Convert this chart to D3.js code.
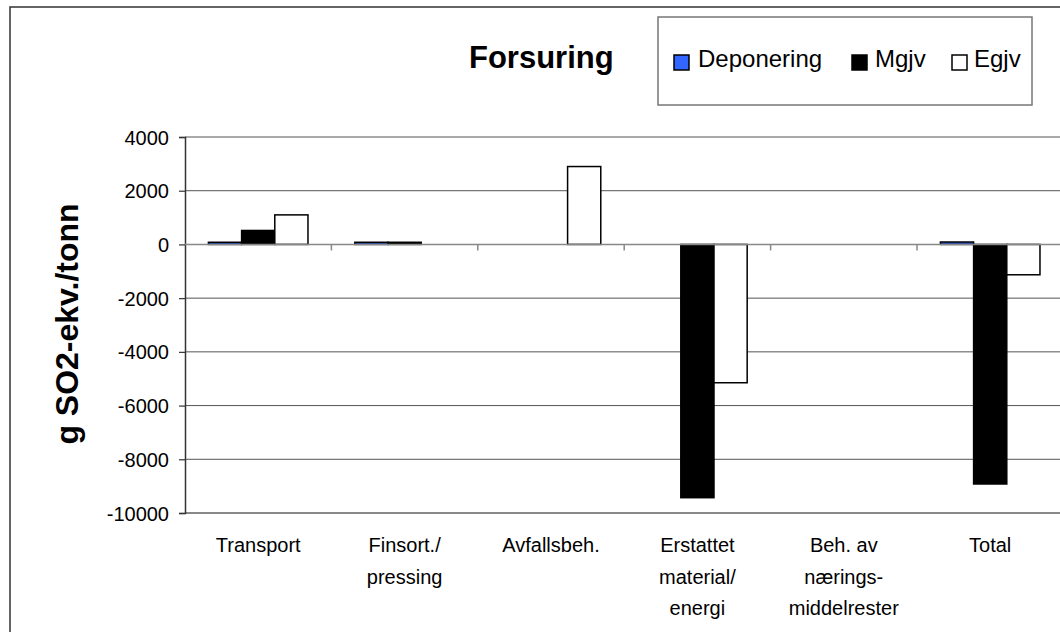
<!DOCTYPE html>
<html>
<head>
<meta charset="utf-8">
<script src="https://cdn.jsdelivr.net/npm/d3@7"></script>
<style>
  html, body { margin: 0; padding: 0; background: #fff; }
  svg { display: block; font-family: Arial, "Liberation Sans", sans-serif; }
</style>
</head>
<body>
<svg id="chart" width="1060" height="632"></svg>
<script>
const categories = [
  ["Transport"],
  ["Finsort./", "pressing"],
  ["Avfallsbeh."],
  ["Erstattet", "material/", "energi"],
  ["Beh. av", "nærings-", "middelrester"],
  ["Total"]
];
const seriesNames = ["Deponering", "Mgjv", "Egjv"];
const deponering = [80, 80, 0, 0, 0, 90];
const mgjv = [520, 80, 0, -9430, 0, -8920];
const egjv = [1100, 0, 2900, -5150, 0, -1130];
const yTicks = [4000, 2000, 0, -2000, -4000, -6000, -8000, -10000];
const seriesFill = ["#3366FF", "#000000", "#FFFFFF"];

(function () {
const seriesValues = [deponering, mgjv, egjv];
const svg = d3.select("#chart");

// outer chart border
svg.append("rect").attr("x", 10).attr("y", 7).attr("width", 1100).attr("height", 700)
  .attr("fill", "none").attr("stroke", "#333").attr("stroke-width", 1.5);

const pLeft = 185, pRight = 1063.4, pTop = 137, pBottom = 513;
const catIdx = categories.map((d, i) => i);
const x = d3.scaleBand().domain(catIdx).range([pLeft, pRight]).paddingInner(0.32).paddingOuter(0.16);
const xs = d3.scaleBand().domain(seriesNames).range([0, x.bandwidth()]);
const y = d3.scaleLinear().domain([-10000, 4000]).range([pBottom, pTop]);

// gridlines
svg.append("g").selectAll("line").data(yTicks.filter(t => t !== -10000 && t !== 0)).join("line")
  .attr("x1", pLeft).attr("x2", 1060).attr("y1", d => y(d)).attr("y2", d => y(d))
  .attr("stroke", "#555").attr("stroke-width", 1);
// bottom line
svg.append("line").attr("x1", pLeft).attr("x2", 1060).attr("y1", y(-10000)).attr("y2", y(-10000))
  .attr("stroke", "#888").attr("stroke-width", 2);

// y axis
const yAxis = d3.axisLeft(y).tickValues(yTicks).tickSize(6).tickPadding(10).tickFormat(d => String(d));
const gy = svg.append("g").attr("transform", `translate(${pLeft},0)`).call(yAxis);
gy.select(".domain").attr("stroke", "#333").attr("stroke-width", 1.5);
gy.selectAll(".tick line").attr("stroke", "#333").attr("stroke-width", 1.2);
gy.selectAll(".tick text").attr("font-size", 20).attr("fill", "#000")
  .attr("font-family", "Arial, 'Liberation Sans', sans-serif").attr("dy", "0.35em");

// bars
const groups = svg.append("g").selectAll("g").data(catIdx).join("g")
  .attr("transform", d => `translate(${x(d)},0)`);
groups.selectAll("rect").data(i => seriesNames.map((s, k) => ({ s, k, v: seriesValues[k][i] })))
  .join("rect")
  .attr("x", d => xs(d.s)).attr("width", xs.bandwidth())
  .attr("y", d => y(Math.max(0, d.v))).attr("height", d => Math.abs(y(d.v) - y(0)))
  .attr("fill", d => seriesFill[d.k])
  .attr("stroke", "#000").attr("stroke-width", d => d.v === 0 ? 0 : 1.5);

// category axis at zero
const step = x.step();
const boundaries = d3.range(1, categories.length + 1).map(i => pLeft + i * step);
svg.append("line").attr("x1", pLeft).attr("x2", 1060).attr("y1", y(0)).attr("y2", y(0))
  .attr("stroke", "#888").attr("stroke-width", 1.5);
svg.append("g").selectAll("line").data(boundaries).join("line")
  .attr("x1", d => d).attr("x2", d => d).attr("y1", y(0)).attr("y2", y(0) + 6)
  .attr("stroke", "#888").attr("stroke-width", 1.5);

// category labels
const lab = svg.append("g").selectAll("text").data(catIdx).join("text")
  .attr("x", d => x(d) + x.bandwidth() / 2).attr("y", 552)
  .attr("text-anchor", "middle").attr("font-size", 20).attr("fill", "#000");
lab.selectAll("tspan").data(d => categories[d].map(t => ({ t, c: d }))).join("tspan")
  .attr("x", d => x(d.c) + x.bandwidth() / 2).attr("dy", (d, j) => j === 0 ? 0 : 31.5)
  .text(d => d.t);

// y title
svg.append("text").attr("transform", "translate(78,324) rotate(-90)")
  .attr("text-anchor", "middle").attr("font-size", 32).attr("font-weight", "bold")
  .text("g SO2-ekv./tonn");

// title
svg.append("text").attr("x", 469).attr("y", 68).attr("font-size", 31).attr("font-weight", "bold")
  .text("Forsuring");

// legend
svg.append("rect").attr("x", 658).attr("y", 17).attr("width", 374).attr("height", 88)
  .attr("fill", "#fff").attr("stroke", "#777").attr("stroke-width", 1.5);
const legX = [674, 852, 952];
const legT = [698, 875, 974];
const lg = svg.append("g").selectAll("g").data(seriesNames).join("g");
lg.append("rect").attr("x", (d, i) => legX[i]).attr("y", 55).attr("width", 15).attr("height", 15)
  .attr("fill", (d, i) => seriesFill[i]).attr("stroke", "#000").attr("stroke-width", 1.5);
lg.append("text").attr("x", (d, i) => legT[i]).attr("y", 67).attr("font-size", 24).text(d => d);
})();
</script>
</body>
</html>
